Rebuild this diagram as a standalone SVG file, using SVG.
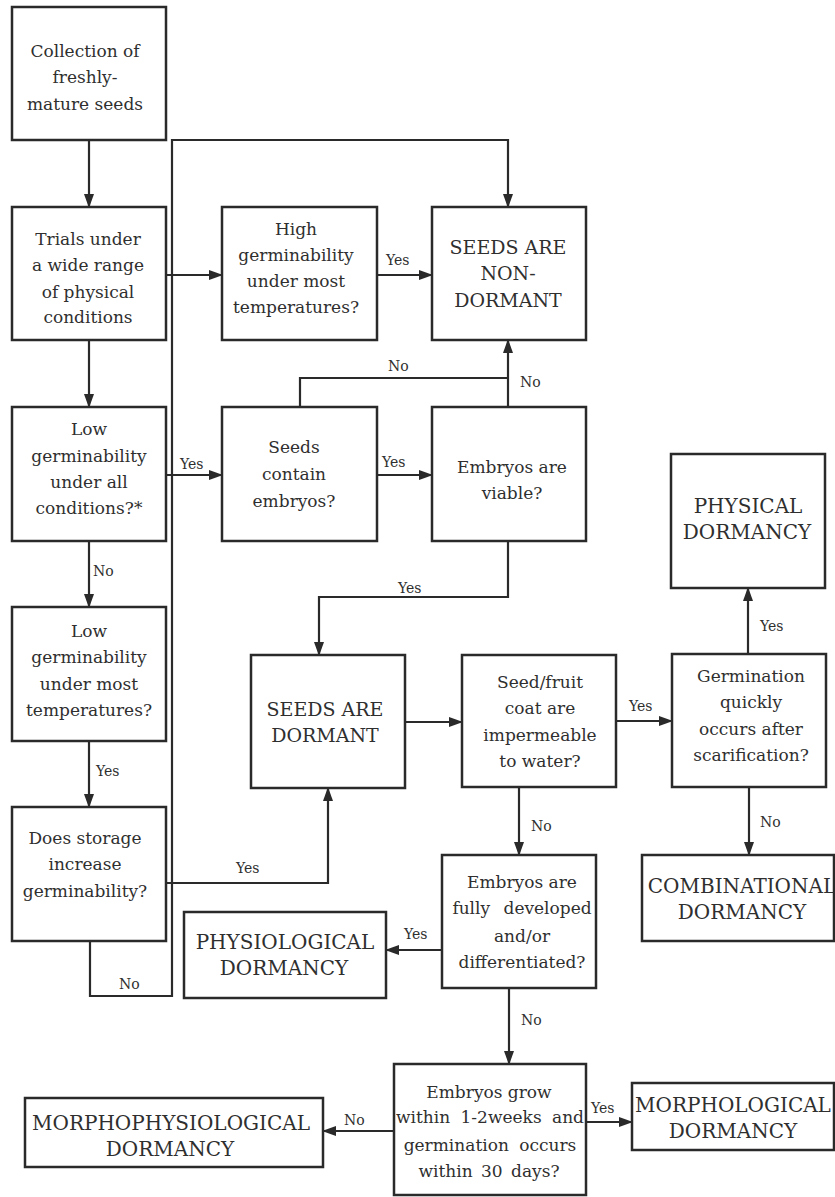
<svg xmlns="http://www.w3.org/2000/svg" width="835" height="1197" viewBox="0 0 835 1197">
<defs>
<marker id="ah" markerWidth="14" markerHeight="10" refX="13" refY="5" orient="auto" markerUnits="userSpaceOnUse">
<path d="M0,0 L14,5 L0,10 Z" fill="#2a2a2a"/>
</marker>
<style>
text{font-family:'DejaVu Serif','Liberation Serif',serif;fill:#2f2f2f}
.box{fill:#fff;stroke:#2a2a2a;stroke-width:2.5}
.t{font-size:17px;text-anchor:middle}
.c{font-size:20px;text-anchor:middle}
.s{font-size:19px}
.l{font-size:14px}
.e{fill:none;stroke:#2a2a2a;stroke-width:2.2}
.a{marker-end:url(#ah)}
</style>
</defs>
<rect width="835" height="1197" fill="#fff"/>
<g id="connectors">
<path class="e a" d="M89,140 V207"/>
<path class="e a" d="M166,275 H222"/>
<path class="e a" d="M377,275 H432"/>
<path class="e a" d="M90,941 V996 H172 V140 H508 V207"/>
<path class="e a" d="M89,340 V407"/>
<path class="e a" d="M166,475 H222"/>
<path class="e a" d="M377,475 H432"/>
<path class="e" d="M300,407 V378 H508"/>
<path class="e a" d="M508,407 V340"/>
<path class="e a" d="M89,541 V607"/>
<path class="e a" d="M508,541 V597 H319 V655"/>
<path class="e a" d="M89,741 V807"/>
<path class="e a" d="M166,883 H328 V788"/>
<path class="e a" d="M405,722 H462"/>
<path class="e a" d="M616,721 H672"/>
<path class="e a" d="M748,654 V588"/>
<path class="e a" d="M519,787 V855"/>
<path class="e a" d="M749,787 V855"/>
<path class="e a" d="M442,950 H386"/>
<path class="e a" d="M509,988 V1064"/>
<path class="e a" d="M394,1131 H323"/>
<path class="e a" d="M586,1122 H632"/>
<text class="l" x="386" y="265">Yes</text>
<text class="l" x="388" y="371">No</text>
<text class="l" x="520" y="387">No</text>
<text class="l" x="180" y="469">Yes</text>
<text class="l" x="382" y="467">Yes</text>
<text class="l" x="93" y="576">No</text>
<text class="l" x="398" y="593">Yes</text>
<text class="l" x="96" y="776">Yes</text>
<text class="l" x="629" y="711">Yes</text>
<text class="l" x="760" y="631">Yes</text>
<text class="l" x="236" y="873">Yes</text>
<text class="l" x="119" y="989">No</text>
<text class="l" x="531" y="831">No</text>
<text class="l" x="760" y="827">No</text>
<text class="l" x="404" y="939">Yes</text>
<text class="l" x="521" y="1025">No</text>
<text class="l" x="344" y="1125">No</text>
<text class="l" x="591" y="1113">Yes</text>
</g>
<g id="collection">
<rect class="box" x="12" y="7" width="154" height="133"/>
<text class="t" x="85" y="57">Collection of</text>
<text class="t" x="85" y="83">freshly-</text>
<text class="t" x="85" y="110">mature seeds</text>
</g>
<g id="trials">
<rect class="box" x="12" y="207" width="154" height="133"/>
<text class="t" x="88" y="245">Trials under</text>
<text class="t" x="88" y="271">a wide range</text>
<text class="t" x="88" y="298">of physical</text>
<text class="t" x="88" y="323">conditions</text>
</g>
<g id="high">
<rect class="box" x="222" y="207" width="155" height="133"/>
<text class="t" x="296" y="235">High</text>
<text class="t" x="296" y="261">germinability</text>
<text class="t" x="296" y="287">under most</text>
<text class="t" x="296" y="313">temperatures?</text>
</g>
<g id="nondormant">
<rect class="box" x="432" y="207" width="154" height="133"/>
<text class="c s" x="508" y="254">SEEDS ARE</text>
<text class="c s" x="508" y="280">NON-</text>
<text class="c s" x="508" y="307">DORMANT</text>
</g>
<g id="lowall">
<rect class="box" x="12" y="407" width="154" height="134"/>
<text class="t" x="89" y="435">Low</text>
<text class="t" x="89" y="462">germinability</text>
<text class="t" x="89" y="488">under all</text>
<text class="t" x="89" y="514">conditions?*</text>
</g>
<g id="contain">
<rect class="box" x="222" y="407" width="155" height="134"/>
<text class="t" x="294" y="453">Seeds</text>
<text class="t" x="294" y="480">contain</text>
<text class="t" x="294" y="507">embryos?</text>
</g>
<g id="viable">
<rect class="box" x="432" y="407" width="154" height="134"/>
<text class="t" x="512" y="473">Embryos are</text>
<text class="t" x="512" y="499">viable?</text>
</g>
<g id="lowmost">
<rect class="box" x="12" y="607" width="154" height="134"/>
<text class="t" x="89" y="637">Low</text>
<text class="t" x="89" y="663">germinability</text>
<text class="t" x="89" y="690">under most</text>
<text class="t" x="89" y="716">temperatures?</text>
</g>
<g id="dormant">
<rect class="box" x="251" y="655" width="154" height="133"/>
<text class="c s" x="325" y="716">SEEDS ARE</text>
<text class="c s" x="325" y="742">DORMANT</text>
</g>
<g id="coat">
<rect class="box" x="462" y="655" width="154" height="132"/>
<text class="t" x="540" y="688">Seed/fruit</text>
<text class="t" x="540" y="714">coat are</text>
<text class="t" x="540" y="741">impermeable</text>
<text class="t" x="540" y="767">to water?</text>
</g>
<g id="scarification">
<rect class="box" x="672" y="654" width="154" height="133"/>
<text class="t" x="751" y="682">Germination</text>
<text class="t" x="751" y="708">quickly</text>
<text class="t" x="751" y="735">occurs after</text>
<text class="t" x="751" y="761">scarification?</text>
</g>
<g id="physical">
<rect class="box" x="671" y="454" width="154" height="134"/>
<text class="c" x="748" y="513">PHYSICAL</text>
<text class="c" x="747" y="539">DORMANCY</text>
</g>
<g id="storage">
<rect class="box" x="12" y="807" width="154" height="134"/>
<text class="t" x="85" y="844">Does storage</text>
<text class="t" x="85" y="870">increase</text>
<text class="t" x="85" y="897">germinability?</text>
</g>
<g id="physiological">
<rect class="box" x="184" y="912" width="202" height="86"/>
<text class="c" x="285" y="949">PHYSIOLOGICAL</text>
<text class="c" x="284" y="975">DORMANCY</text>
</g>
<g id="developed">
<rect class="box" x="442" y="855" width="154" height="133"/>
<text class="t" x="522" y="888">Embryos are</text>
<text class="t" x="522" y="914" word-spacing="8">fully developed</text>
<text class="t" x="522" y="942">and/or</text>
<text class="t" x="522" y="968">differentiated?</text>
</g>
<g id="combinational">
<rect class="box" x="642" y="855" width="192" height="86"/>
<text class="c" x="742" y="893">COMBINATIONAL</text>
<text class="c" x="742" y="919">DORMANCY</text>
</g>
<g id="grow">
<rect class="box" x="394" y="1064" width="192" height="131"/>
<text class="t" x="489" y="1098">Embryos grow</text>
<text class="t" x="490" y="1123" word-spacing="5">within 1-2weeks and</text>
<text class="t" x="490" y="1151" word-spacing="5">germination occurs</text>
<text class="t" x="489" y="1177" word-spacing="3">within 30 days?</text>
</g>
<g id="morphophysiological">
<rect class="box" x="25" y="1098" width="298" height="69"/>
<text class="c" x="171" y="1130">MORPHOPHYSIOLOGICAL</text>
<text class="c" x="170" y="1156">DORMANCY</text>
</g>
<g id="morphological">
<rect class="box" x="632" y="1083" width="202" height="67"/>
<text class="c" x="733" y="1112">MORPHOLOGICAL</text>
<text class="c" x="733" y="1138">DORMANCY</text>
</g>
</svg>
